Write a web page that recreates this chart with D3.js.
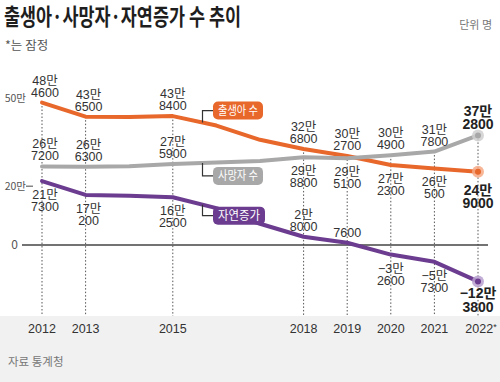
<!DOCTYPE html>
<html><head><meta charset="utf-8">
<script src="https://cdn.jsdelivr.net/npm/d3@7"></script>
<style>
html,body{margin:0;padding:0;background:#fff;}
svg{display:block;font-family:"Noto Sans CJK KR","Noto Sans",sans-serif;}
.lbl{font-family:"Liberation Sans","Noto Sans CJK KR",sans-serif;}
</style></head>
<body>
<svg id="c" width="500" height="382"></svg>
<script>
// ---- data ----
const years   = [2012,2013,2014,2015,2016,2017,2018,2019,2020,2021,2022];
const births  = [484600,436500,435400,438400,406200,357800,326800,302700,272300,260500,249000];
const deaths  = [267200,266300,267700,275900,280800,285500,298800,295100,304900,317800,372800];
const natural = [217300,170200,167700,162500,125400,72300,28000,7600,-32600,-57300,-123800];
const labeledYears = [2012,2013,2015,2018,2019,2020,2021,2022];
const xTickLabels  = ["2012","2013","2015","2018","2019","2020","2021","2022"];
const yTicks = [500000,200000,0];
const yTickLabels = ["50만","20만","0"];
const seriesNames = ["출생아 수","사망자 수","자연증가"];
// label side per labeled year (a = above, b = below)
const birthSide   = ["a","a","a","a","a","b","b","b"];
const deathSide   = ["a","a","a","b","b","a","a","a"];
const naturalSide = ["b","b","b","a","a","b","b","b"];

const colors = ["#e8672b","#a8a8a8","#6b3c8f"];
const halo   = ["#f4a985","#cfcfcf","#b9a0cf"];

const svg = d3.select("#c");
const W = 500, H = 382;

const x = d3.scaleLinear().domain([2012,2022]).range([42,478]);
const y = d3.scaleLinear().domain([0,500000]).range([245,98]);

// bottom band
svg.append("rect").attr("x",0).attr("y",316).attr("width",W).attr("height",H-316).attr("fill","#f1f1f1");

// title
svg.append("text").attr("x",4).attr("y",25).attr("font-size",22.5).attr("font-weight",700)
  .attr("fill","#1e1e1e").attr("textLength",237).attr("lengthAdjust","spacingAndGlyphs")
  .text("출생아·사망자·자연증가 수 추이");
svg.append("text").attr("x",5).attr("y",50).attr("font-size",12.5).attr("fill","#555")
  .text("*는 잠정");
svg.append("text").attr("x",492).attr("y",29).attr("font-size",11).attr("fill","#777")
  .attr("text-anchor","end").text("단위 명");

// y ticks
yTicks.forEach((v,i)=>{
  svg.append("text").attr("x", v===0?18:26).attr("y",y(v)+4).attr("text-anchor","end")
    .attr("font-size",v===0?12:10.5).attr("fill","#555").text(yTickLabels[i]);
});
svg.append("line").attr("x1",26).attr("x2",33).attr("y1",y(200000)).attr("y2",y(200000))
  .attr("stroke","#666").attr("stroke-width",1.2);

// dotted verticals
const all = [births,deaths,natural];
labeledYears.forEach(yr=>{
  const i = years.indexOf(yr);
  const top = d3.min(all, s=>y(s[i]));
  svg.append("line").attr("x1",x(yr)).attr("x2",x(yr)).attr("y1",top).attr("y2",316)
    .attr("stroke","#555").attr("stroke-width",1).attr("stroke-dasharray","1.5,2");
});

// zero line
svg.append("line").attr("x1",22).attr("x2",488).attr("y1",y(0)).attr("y2",y(0))
  .attr("stroke","#444").attr("stroke-width",1.4);

// lines
const line = d3.line().x((d,i)=>x(years[i])).y(d=>y(d));
all.forEach((s,k)=>{
  svg.append("path").attr("d",line(s)).attr("fill","none").attr("stroke",colors[k])
    .attr("stroke-width",4).attr("stroke-linejoin","round").attr("stroke-linecap","round");
});
// end dots
all.forEach((s,k)=>{
  const n = s.length-1;
  svg.append("circle").attr("cx",x(years[n])).attr("cy",y(s[n])).attr("r",6).attr("fill",halo[k]).attr("opacity",0.85);
  svg.append("circle").attr("cx",x(years[n])).attr("cy",y(s[n])).attr("r",3).attr("fill",colors[k]);
});

// value labels (one text element, one tspan per line)
function parts(v){
  const neg = v<0, a = Math.abs(v);
  const man = Math.floor(a/10000), rest = a%10000;
  if(man===0) return [String(rest)];
  return [(neg?"−":"")+man+"만", String(rest)];
}
const sides = [birthSide,deathSide,naturalSide];
all.forEach((s,k)=>{
  labeledYears.forEach((yr,j)=>{
    const i = years.indexOf(yr);
    const v = s[i];
    const p = parts(v);
    const last = yr===2022;
    const fs = last?14:12.5, lh = last?13.5:12;
    const py = y(v), side = sides[k][j];
    let y0;
    if(side==="a"){
      const b = py - 6;
      y0 = b - lh*(p.length-1);
    } else {
      y0 = py + (last? (k===0?23:17) : 18);
    }
    const cx = x(yr)+(yr<=2013?3:0);
    const t = svg.append("text").attr("class","lbl").attr("text-anchor","middle")
      .attr("font-size",fs).attr("font-weight",last?700:400).attr("fill",last?"#222":"#333");
    p.forEach((str,m)=>{
      t.append("tspan").attr("x",cx).attr("y",y0+m*lh).text(str);
    });
  });
});

// legend boxes with connectors
const connX = 202.5;
const boxX = 213;
const boxDY = [-12, 13, 11];   // box centre relative to the series line at connX
const boxW = [50,50,52];
all.forEach((s,k)=>{
  const yrAt = x.invert(connX);
  const i0 = years.findIndex(d=>d>yrAt)-1;
  const t = (yrAt-years[i0])/(years[i0+1]-years[i0]);
  const ly = y(s[i0] + t*(s[i0+1]-s[i0]));
  const cy = ly + boxDY[k];
  svg.append("path").attr("d",`M${connX},${ly}V${cy}H${boxX}`).attr("fill","none")
    .attr("stroke","#333").attr("stroke-width",1.2);
  svg.append("rect").attr("x",boxX).attr("y",cy-9).attr("width",boxW[k]).attr("height",18)
    .attr("rx",5).attr("fill",colors[k]);
  svg.append("text").attr("x",boxX+boxW[k]/2).attr("y",cy+4.5).attr("text-anchor","middle")
    .attr("font-size",12).attr("fill","#fff").attr("textLength",boxW[k]-10)
    .attr("lengthAdjust","spacingAndGlyphs").text(seriesNames[k]);
});

// x axis labels
labeledYears.forEach((yr,j)=>{
  const t = svg.append("text").attr("class","lbl").attr("x",x(yr)).attr("y",333).attr("text-anchor","middle")
    .attr("font-size",12.5).attr("fill","#333").text(xTickLabels[j]);
  if(j===labeledYears.length-1){
    t.attr("x",x(yr)+3);
    t.append("tspan").attr("font-size",9).attr("dy",-3).text("*");
  }
});

// source
svg.append("text").attr("x",8).attr("y",366).attr("font-size",11.5).attr("fill","#777").text("자료 통계청");
</script>
</body></html>
